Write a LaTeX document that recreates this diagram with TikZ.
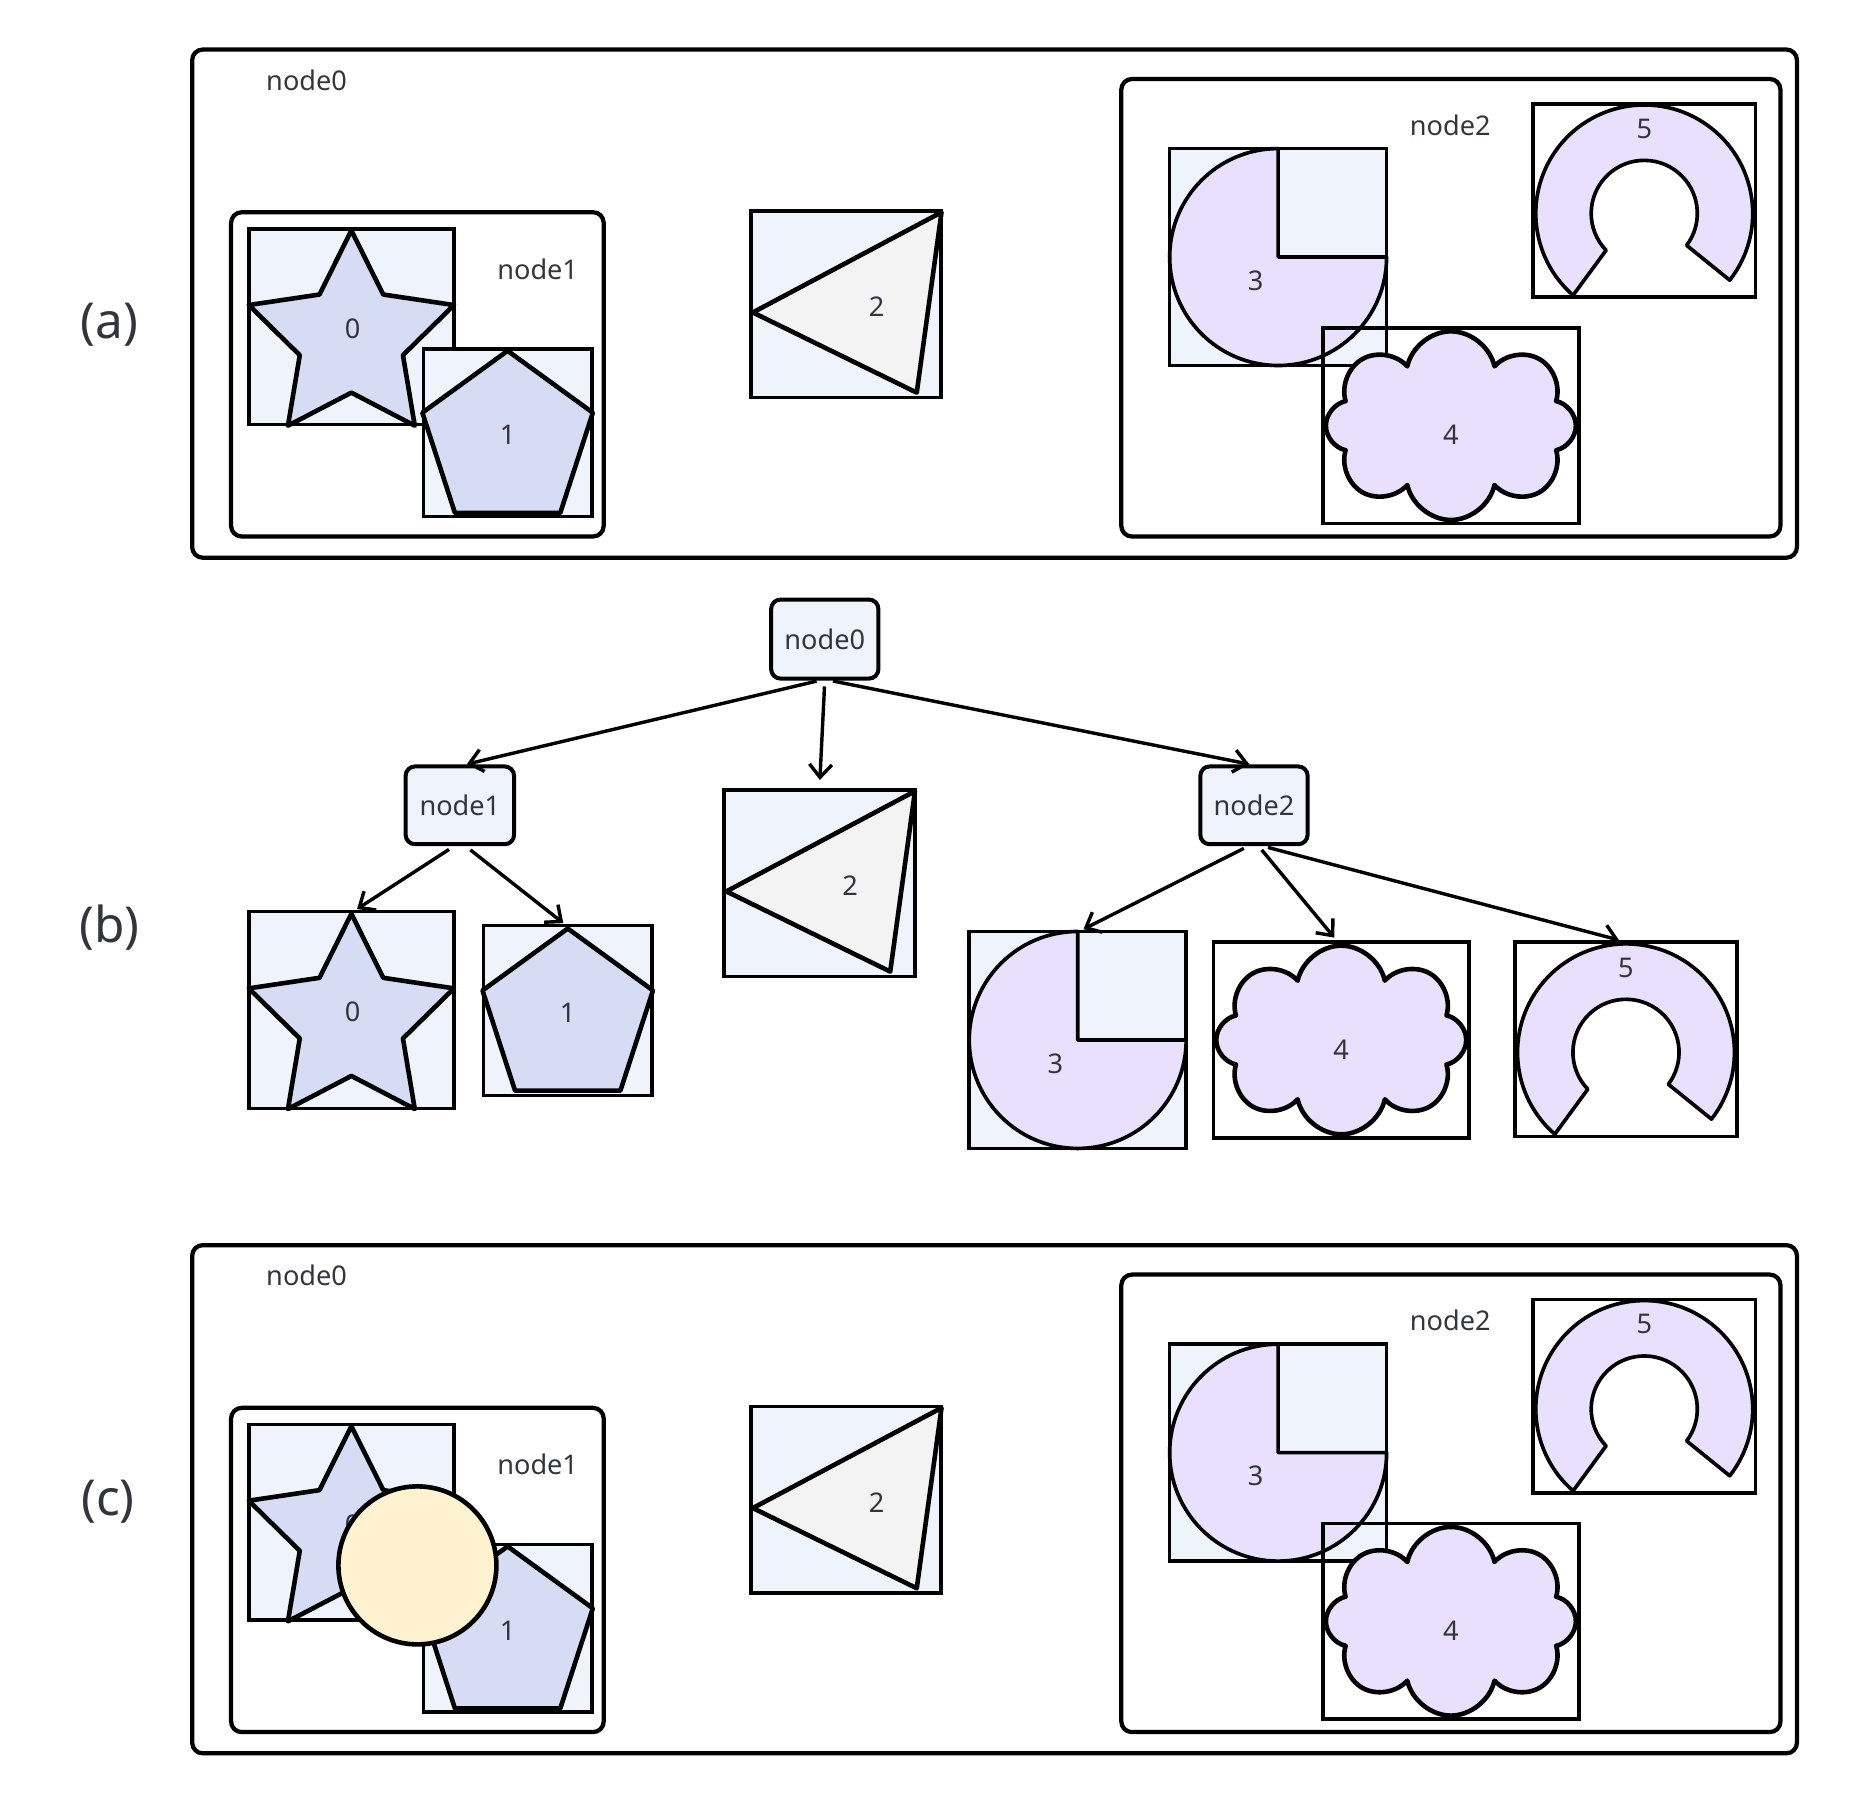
\documentclass[tikz,border=0pt]{standalone}
\usepackage{fontspec}
\setmainfont{Noto Sans}
\usetikzlibrary{shapes.symbols,arrows.meta,positioning}

\definecolor{ink}{HTML}{34343F}
\definecolor{boxfill}{HTML}{EEF3FC}
\definecolor{starfill}{HTML}{D6DCF3}
\definecolor{lilac}{HTML}{E8E0FC}
\definecolor{trifill}{HTML}{F3F3F3}
\definecolor{sunfill}{HTML}{FEF2D0}

\tikzset{
  every node/.style={font=\fontsize{23}{27}\selectfont, text=ink},
  outline/.style={draw=black, line width=3.9pt, line join=round},
  thinline/.style={draw=black, line width=3.1pt, line join=round},
  group/.style={draw, line width=3.6pt, rounded corners=9pt, inner sep=0pt},
  frame/.style={draw, line width=3pt, inner sep=0pt, fill=boxfill},
  open frame/.style={draw, line width=3pt, inner sep=0pt},
  tag/.style={draw, line width=3.4pt, rounded corners=8pt, fill=boxfill, inner sep=0pt, minimum width=91pt, minimum height=67pt},
  link/.style={-{Straight Barb[length=11pt,width=19pt,line width=2.9pt]}, line width=2.9pt, shorten <=2pt, shorten >=1pt},
  panel/.style={font=\fontsize{42}{48}\selectfont},
  % the six figures, drawn round the centre of their frame
  pics/starfig/.style={code={
    \draw[outline, fill=starfill, shift={(0,-10)}] (90:91.5)
      \foreach \a in {0,...,3}{ -- (126+72*\a:46) -- (162+72*\a:91.5)} -- (414:46) -- cycle;
    \node (-lbl) at (1,-2) {#1};}},
  pics/pentfig/.style={code={
    \draw[outline, fill=starfill, shift={(0,-6.5)}] (90:76)
      \foreach \a in {1,...,4}{ -- (90+72*\a:76)} -- cycle;
    \node (-lbl) at (0,-2) {#1};}},
  pics/trifig/.style={code={
    \draw[outline, fill=trifill] (-79,-7) -- (81,78) -- (60,-75) -- cycle;
    \node (-lbl) at (26,-2) {#1};}},
  pics/piefig/.style={code={
    \draw[thinline, fill=lilac] (0,0) -- (0,92) arc[start angle=90, end angle=360, radius=92] -- cycle;
    \node (-lbl) at (-19,-20) {#1};}},
  pics/cloudfig/.style={code={
    \node[cloud, outline, fill=lilac, cloud puffs=8, cloud puff arc=155, cloud ignores aspect,
      minimum width=212pt, minimum height=160pt, inner sep=0pt] (-c) {};
    \node (-lbl) at (0,-8) {#1};}},
  pics/shoefig/.style={code={
    \draw[thinline, fill=lilac, shift={(0,-11)}] (-38:92) arc[start angle=-38, end angle=229, radius=92]
      -- (224:45) arc[start angle=224, end angle=-37, radius=45] -- cycle;
    \node (-lbl) at (0,61) {#1};}}
}

\begin{document}
\begin{tikzpicture}[x=1pt, y=1pt]
\useasboundingbox (0,0) rectangle (1569,-1531);

% (a) and (c): nested groups
\foreach \p/\dy in {a/0, c/1014}{
\begin{scope}[yshift=-\dy pt]
\node[group, minimum width=1361pt, minimum height=431pt] (\p-g0) at (843.5,-257.5) {};
\node (\p-n0) at (260,-68) {node0};
\node[group, minimum width=316pt, minimum height=275pt] (\p-g1) at (354,-317.5) {};
\node (\p-n1) at (456,-228) {node1};
\node[group, minimum width=559pt, minimum height=388pt] (\p-g2) at (1230.5,-261) {};
\node (\p-n2) at (1230,-106) {node2};
\node[frame, minimum width=174pt, minimum height=166pt] (\p-f0) at (298,-277) {};
\pic (\p-s0) at (\p-f0.center) {starfig=0};
\node[frame, minimum width=143pt, minimum height=142pt] (\p-f1) at (430.5,-367) {};
\pic (\p-s1) at (\p-f1.center) {pentfig=1};
\node[frame, minimum width=161pt, minimum height=158pt] (\p-f2) at (717.5,-258) {};
\pic (\p-s2) at (\p-f2.center) {trifig=2};
\node[frame, minimum width=184pt, minimum height=184pt] (\p-f3) at (1084,-218) {};
\pic (\p-s3) at (\p-f3.center) {piefig=3};
\node[open frame, minimum width=217pt, minimum height=166pt] (\p-f4) at (1230.5,-361) {};
\pic (\p-s4) at (\p-f4.center) {cloudfig=4};
\node[open frame, minimum width=189pt, minimum height=164pt] (\p-f5) at (1394.5,-170) {};
\pic (\p-s5) at (\p-f5.center) {shoefig=5};
\end{scope}
}
\node[panel] (a-tag) at (93,-275) {(a)};
\node[panel] (c-tag) at (91.5,-1274) {(c)};
\node[circle, outline, fill=sunfill, minimum size=134pt, inner sep=0pt] (c-sun) at (354,-1327.6) {};

% (b): the tree
\node[panel] (b-tag) at (93,-787) {(b)};
\node[tag] (b-n0) at (699.5,-542) {node0};
\node[tag, minimum width=92pt, minimum height=66pt] (b-n1) at (390,-683) {node1};
\node[tag, minimum height=66pt] (b-n2) at (1063.5,-683) {node2};
\node[frame, minimum width=174pt, minimum height=167pt] (b-f0) at (298,-856.5) {};
\pic (b-s0) at (b-f0.center) {starfig=0};
\node[frame, minimum width=143pt, minimum height=144pt] (b-f1) at (481.5,-857) {};
\pic (b-s1) at (b-f1.center) {pentfig=1};
\node[frame, minimum width=162pt, minimum height=158pt] (b-f2) at (695,-749) {};
\pic (b-s2) at (b-f2.center) {trifig=2};
\node[frame, minimum width=184pt, minimum height=184pt] (b-f3) at (914,-882) {};
\pic (b-s3) at (b-f3.center) {piefig=3};
\node[open frame, minimum width=217pt, minimum height=166pt] (b-f4) at (1137.5,-882) {};
\pic (b-s4) at (b-f4.center) {cloudfig=4};
\node[open frame, minimum width=188pt, minimum height=165pt] (b-f5) at (1379,-881.5) {};
\pic (b-s5) at (b-f5.center) {shoefig=5};

\draw[link] ([xshift=-5pt]b-n0.south) -- ([xshift=5pt]b-n1.north);
\draw[link, shorten <=5pt, shorten >=7pt] (b-n0.south) -- (b-f2.north);
\draw[link] ([xshift=5pt]b-n0.south) -- ([xshift=-3pt]b-n2.north);
\draw[link, shorten <=5pt] ([xshift=-5pt]b-n1.south) -- ([xshift=4pt]b-f0.north);
\draw[link, shorten <=5pt] ([xshift=5pt]b-n1.south) -- ([xshift=-3pt]b-f1.north);
\draw[link, shorten <=4pt] ([xshift=-5pt]b-n2.south) -- ([xshift=4pt]b-f3.north);
\draw[link, shorten <=4pt, shorten >=3pt] ([xshift=4pt]b-n2.south) -- ([xshift=-4pt]b-f4.north);
\draw[link, shorten <=4pt] ([xshift=8pt]b-n2.south) -- ([xshift=-5pt]b-f5.north);
\end{tikzpicture}
\end{document}
